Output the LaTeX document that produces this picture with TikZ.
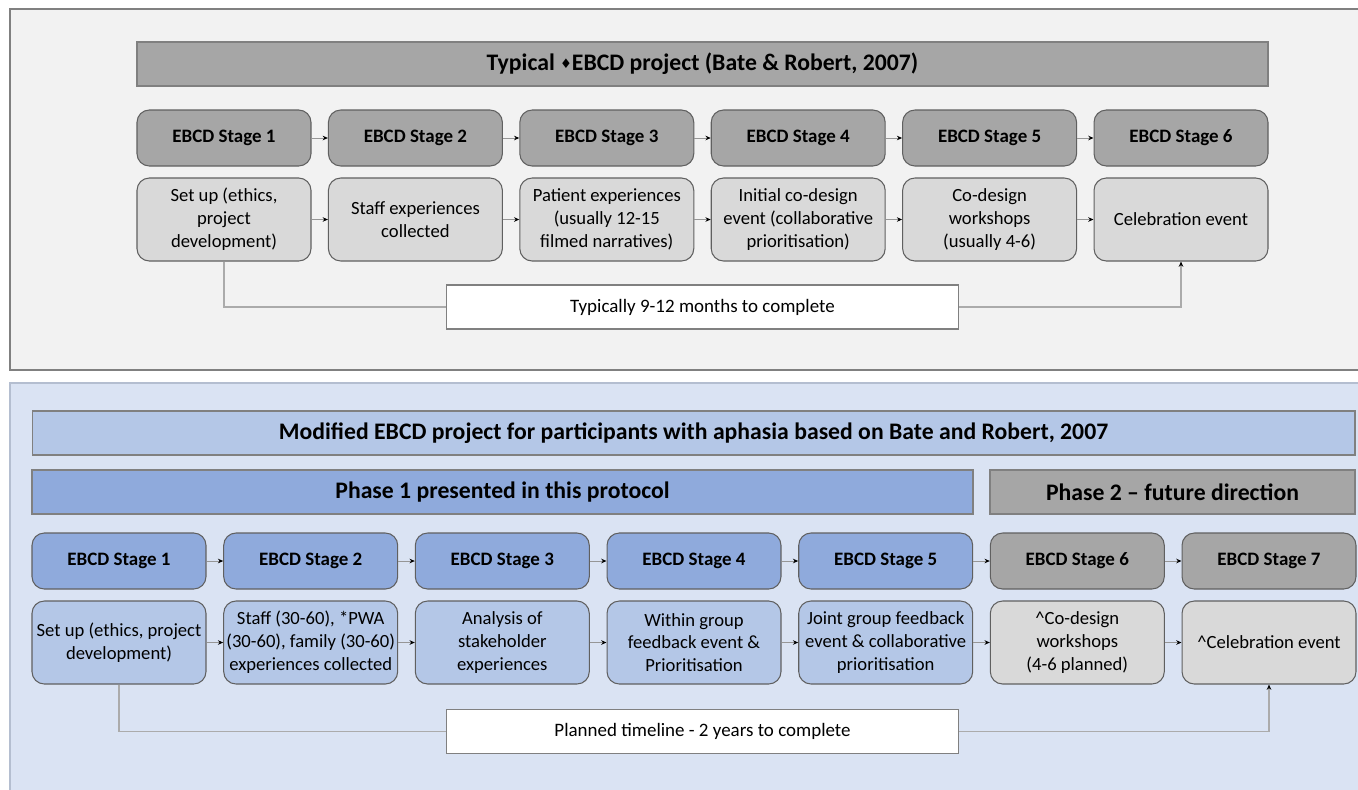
\documentclass[tikz,border=0pt]{standalone}
\usepackage{fontspec}
\setmainfont{Carlito}
\newfontfamily\symfont{DejaVu Sans}
\usetikzlibrary{arrows.meta}
\definecolor{PanelClr}{RGB}{242,242,242}
\definecolor{PanelBlueClr}{RGB}{218,227,243}
\definecolor{PanelEdgeClr}{RGB}{180,190,208}
\definecolor{DarkGreyClr}{RGB}{166,166,166}
\definecolor{LightGreyClr}{RGB}{217,217,217}
\definecolor{MidBlueClr}{RGB}{143,170,220}
\definecolor{LightBlueClr}{RGB}{180,199,231}
\definecolor{EdgeClr}{RGB}{96,96,96}
\definecolor{LinkClr}{RGB}{150,150,150}

\begin{document}
\begin{tikzpicture}[x=0.02cm,y=-0.02cm,
  stage/.style={draw=EdgeClr,line width=0.6pt,rounded corners=7pt,minimum width=3.48cm,
    minimum height=1.12cm,font=\fontsize{10.8}{12}\selectfont\bfseries},
  body/.style={draw=EdgeClr,line width=0.6pt,rounded corners=7pt,minimum width=3.48cm,
    minimum height=1.66cm,inner xsep=0.5pt,align=center,font=\fontsize{10.6}{13}\selectfont},
  banner/.style={draw=EdgeClr!80,line width=0.7pt,minimum height=0.88cm,
    font=\fontsize{13.5}{15}\selectfont\bfseries},
  timebox/.style={draw=EdgeClr!80,fill=white,line width=0.6pt,minimum width=10.26cm,
    minimum height=0.88cm,font=\fontsize{10.8}{12}\selectfont},
  link/.style={draw=LinkClr,line width=0.5pt,-{Stealth[length=3pt,width=2.6pt,color=black]}},
  tline/.style={draw=LinkClr!80,line width=0.6pt}]
\useasboundingbox (0,0) rectangle (1358,789);

% panels
\draw[fill=PanelClr,draw=gray,line width=0.7pt] (10,9) rectangle (1380,370);
\draw[fill=PanelBlueClr,draw=PanelEdgeClr,line width=0.8pt] (10,383) rectangle (1380,820);

% typical project
\node[banner,fill=DarkGreyClr,minimum width=22.62cm] (T) at (702.5,64)
  {Typical {\symfont\fontsize{7.5}{8}\selectfont\raisebox{0.3ex}{♦}}EBCD project (Bate \& Robert, 2007)};

\node[stage,fill=DarkGreyClr] (a1) at (224,138) {EBCD Stage 1};
\node[stage,fill=DarkGreyClr] (a2) at (415.4,138) {EBCD Stage 2};
\node[stage,fill=DarkGreyClr] (a3) at (606.8,138) {EBCD Stage 3};
\node[stage,fill=DarkGreyClr] (a4) at (798.2,138) {EBCD Stage 4};
\node[stage,fill=DarkGreyClr] (a5) at (989.6,138) {EBCD Stage 5};
\node[stage,fill=DarkGreyClr] (a6) at (1181,138) {EBCD Stage 6};

\node[body,fill=LightGreyClr] (b1) at (224,219.5) {Set up (ethics,\\project\\development)};
\node[body,fill=LightGreyClr] (b2) at (415.4,219.5) {Staff experiences\\collected};
\node[body,fill=LightGreyClr] (b3) at (606.8,219.5) {Patient experiences\\(usually 12-15\\filmed narratives)};
\node[body,fill=LightGreyClr] (b4) at (798.2,219.5) {Initial co-design\\event (collaborative\\prioritisation)};
\node[body,fill=LightGreyClr] (b5) at (989.6,219.5) {Co-design\\workshops\\(usually 4-6)};
\node[body,fill=LightGreyClr] (b6) at (1181,219.5) {Celebration event};

\draw[link] (a1) -- (a2);
\draw[link] (a2) -- (a3);
\draw[link] (a3) -- (a4);
\draw[link] (a4) -- (a5);
\draw[link] (a5) -- (a6);
\draw[link] (b1) -- (b2);
\draw[link] (b2) -- (b3);
\draw[link] (b3) -- (b4);
\draw[link] (b4) -- (b5);
\draw[link] (b5) -- (b6);

\node[timebox] (t1) at (702.5,307) {Typically 9-12 months to complete};
\draw[tline] (b1.south) |- (t1.west);
\draw[tline,-{Stealth[length=3pt,width=2.6pt,color=black]}] (t1.east) -| (b6.south);

% modified project
\node[banner,fill=LightBlueClr,minimum width=26.46cm] (M) at (693.5,433)
  {Modified EBCD project for participants with aphasia based on Bate and Robert, 2007};
\node[banner,fill=MidBlueClr,minimum width=18.82cm] (P1) at (502.5,492)
  {Phase 1 presented in this protocol};
\node[banner,fill=DarkGreyClr,minimum width=7.3cm] (P2) at (1172.5,492)
  {Phase 2 – future direction};

\node[stage,fill=MidBlueClr] (c1) at (119,561) {EBCD Stage 1};
\node[stage,fill=MidBlueClr] (c2) at (310.7,561) {EBCD Stage 2};
\node[stage,fill=MidBlueClr] (c3) at (502.3,561) {EBCD Stage 3};
\node[stage,fill=MidBlueClr] (c4) at (694,561) {EBCD Stage 4};
\node[stage,fill=MidBlueClr] (c5) at (885.7,561) {EBCD Stage 5};
\node[stage,fill=DarkGreyClr] (c6) at (1077.3,561) {EBCD Stage 6};
\node[stage,fill=DarkGreyClr] (c7) at (1269,561) {EBCD Stage 7};

\node[body,fill=LightBlueClr] (d1) at (119,642.5) {Set up (ethics, project\\development)};
\node[body,fill=LightBlueClr] (d2) at (310.7,642.5) {Staff (30-60), *PWA\\(30-60), family (30-60)\\experiences collected};
\node[body,fill=LightBlueClr] (d3) at (502.3,642.5) {Analysis of\\stakeholder\\experiences};
\node[body,fill=LightBlueClr] (d4) at (694,642.5) {Within group\\feedback event \&\\Prioritisation};
\node[body,fill=LightBlueClr] (d5) at (885.7,642.5) {Joint group feedback\\event \& collaborative\\prioritisation};
\node[body,fill=LightGreyClr] (d6) at (1077.3,642.5) {\textasciicircum Co-design\\workshops\\(4-6 planned)};
\node[body,fill=LightGreyClr] (d7) at (1269,642.5) {\textasciicircum Celebration event};

\draw[link] (c1) -- (c2);
\draw[link] (c2) -- (c3);
\draw[link] (c3) -- (c4);
\draw[link] (c4) -- (c5);
\draw[link] (c5) -- (c6);
\draw[link] (c6) -- (c7);
\draw[link] (d1) -- (d2);
\draw[link] (d2) -- (d3);
\draw[link] (d3) -- (d4);
\draw[link] (d4) -- (d5);
\draw[link] (d5) -- (d6);
\draw[link] (d6) -- (d7);

\node[timebox] (t2) at (702.5,731.5) {Planned timeline - 2 years to complete};
\draw[tline] (d1.south) |- (t2.west);
\draw[tline,-{Stealth[length=3pt,width=2.6pt,color=black]}] (t2.east) -| (d7.south);

\end{tikzpicture}
\end{document}
